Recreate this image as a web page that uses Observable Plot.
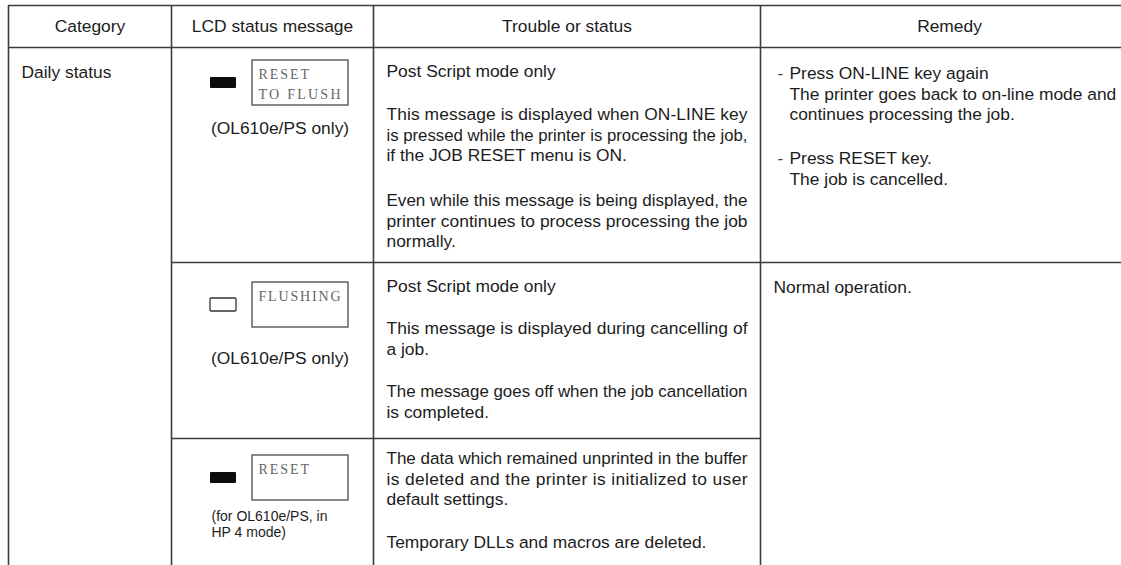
<!DOCTYPE html>
<html><head><meta charset="utf-8">
<script src="https://cdn.jsdelivr.net/npm/d3@7"></script>
<script src="https://cdn.jsdelivr.net/npm/@observablehq/plot@0.6"></script>
<style>
html,body{margin:0;padding:0;background:#fff;}
#chart svg{display:block;}
</style></head><body><div id="chart"></div>
<script>
// ---------- table content ----------
const headers = ["Category", "LCD status message", "Trouble or status", "Remedy"];
const categories = ["Daily status"];
const lcdMessages = [["RESET", "TO FLUSH"], ["FLUSHING"], ["RESET"]];
const ledStates = ["lit", "unlit", "lit"];
const lcdNotes = [["(OL610e/PS only)"], ["(OL610e/PS only)"], ["(for OL610e/PS, in", "HP 4 mode)"]];
const troubleText = [
  [["Post Script mode only"],
   ["This message is displayed when ON-LINE key", "is pressed while the printer is processing the job,", "if the JOB RESET menu is ON."],
   ["Even while this message is being displayed, the", "printer continues to process processing the job", "normally."]],
  [["Post Script mode only"],
   ["This message is displayed during cancelling of", "a job."],
   ["The message goes off when the job cancellation", "is completed."]],
  [["The data which remained unprinted in the buffer", "is deleted and the printer is initialized to user", "default settings."],
   ["Temporary DLLs and macros are deleted."]]
];
const remedyText = [
  [{bullet: true, lines: ["Press ON-LINE key again", "The printer goes back to on-line mode and", "continues processing the job."]},
   {bullet: true, lines: ["Press RESET key.", "The job is cancelled."]}],
  [{bullet: false, lines: ["Normal operation."]}]
];

// ---------- layout ----------
const W = 1121, H = 565;
const colX = [8, 171, 373, 760, 1138];
const rowY = [5, 47, 262, 438, 640];
const headerY = 26;
const catPos = {dx: 13, dy: 25};
const tParaY = [[71, 114, 200], [286, 328, 391], [458, 542]];
const tLead = 20.7;
const tLeft = 386, tJustify = 361;
const rParaY = [[73, 158], [287]];
const rLead = 20.5, rDash = 777, rText = 789, rPlain = 773;
const boxTop = [60, 282, 455], boxH = 45, boxX = [252, 348];
const ledX = [210, 236], ledH = [11, 13, 11];
const noteY = [[128], [358], [516, 532]];
const noteAnchor = ["middle", "middle", "start"];
const noteX = [279.5, 279.5, 211];

// ---------- derived mark data ----------
const headerData = headers.map((t, i) => ({t, x: (colX[i] + colX[i + 1]) / 2, y: headerY}));
const catData = categories.map(t => ({t, x: colX[0] + catPos.dx, y: rowY[1] + catPos.dy}));

const troubleLines = [];
troubleText.forEach((paras, r) => paras.forEach((lines, p) => lines.forEach((t, i) =>
  troubleLines.push({t, x: tLeft, y: tParaY[r][p] + i * tLead, justify: i < lines.length - 1}))));

const remedyLines = [], remedyDashes = [];
remedyText.forEach((items, r) => items.forEach((item, p) => {
  if (item.bullet) remedyDashes.push({t: "-", x: rDash, y: rParaY[r][p]});
  item.lines.forEach((t, i) => remedyLines.push({t, x: item.bullet ? rText : rPlain, y: rParaY[r][p] + i * rLead}));
}));

const boxes = lcdMessages.map((m, r) => ({x1: boxX[0], x2: boxX[1], y1: boxTop[r], y2: boxTop[r] + boxH}));
const leds = ledStates.map((s, r) => {
  const c = boxTop[r] + boxH / 2;
  return {state: s, x1: ledX[0], x2: ledX[1], y1: c - ledH[r] / 2, y2: c + ledH[r] / 2};
});
const lcdLines = [];
lcdMessages.forEach((m, r) => m.forEach((t, i) => lcdLines.push({t, x: boxX[0] + 6, y: boxTop[r] + 14 + i * 20})));
const noteLines = [];
lcdNotes.forEach((n, r) => n.forEach((t, i) => noteLines.push({t, x: noteX[r], y: noteY[r][i], anchor: noteAnchor[r]})));

const hLines = [
  {y: rowY[0], x1: colX[0], x2: colX[4]},
  {y: rowY[1], x1: colX[0], x2: colX[4]},
  {y: rowY[2], x1: colX[1], x2: colX[4]},
  {y: rowY[3], x1: colX[1], x2: colX[3]}
];
const vLines = colX.map(x => ({x, y1: rowY[0], y2: H + 5}));

const ink = "#1c1c1c", lineInk = "#3c3c3c";
const font = "Liberation Sans, Arial, Helvetica, sans-serif";

const chart = Plot.plot({
  width: W, height: H, margin: 0,
  x: {domain: [0, W], range: [0, W], axis: null},
  y: {domain: [0, H], range: [0, H], axis: null},
  style: {fontFamily: font, background: "#fff", color: ink},
  marks: [
    Plot.ruleY(hLines, {y: "y", x1: "x1", x2: "x2", stroke: lineInk, strokeWidth: 1.6}),
    Plot.ruleX(vLines, {x: "x", y1: "y1", y2: "y2", stroke: lineInk, strokeWidth: 1.6}),
    Plot.rect(boxes, {x1: "x1", x2: "x2", y1: "y1", y2: "y2", fill: "none", stroke: "#4a4a4a", strokeWidth: 1.3}),
    Plot.rect(leds.filter(d => d.state === "lit"), {x1: "x1", x2: "x2", y1: "y1", y2: "y2", fill: "#0d0d0d", rx: 1}),
    Plot.rect(leds.filter(d => d.state !== "lit"), {x1: "x1", x2: "x2", y1: "y1", y2: "y2", fill: "#fff", stroke: "#333", strokeWidth: 1.3, rx: 1}),
    Plot.text(headerData, {x: "x", y: "y", text: "t", textAnchor: "middle", lineAnchor: "middle", fontSize: 17.4, fill: ink}),
    Plot.text(catData, {x: "x", y: "y", text: "t", textAnchor: "start", lineAnchor: "middle", fontSize: 17.4, fill: ink}),
    Plot.text(troubleLines, {x: "x", y: "y", text: "t", textAnchor: "start", lineAnchor: "middle", fontSize: 17.4, fill: ink}),
    Plot.text(remedyDashes, {x: "x", y: "y", text: "t", textAnchor: "start", lineAnchor: "middle", fontSize: 17.4, fill: "#444"}),
    Plot.text(remedyLines, {x: "x", y: "y", text: "t", textAnchor: "start", lineAnchor: "middle", fontSize: 17.4, fill: ink}),
    Plot.text(lcdLines, {x: "x", y: "y", text: "t", textAnchor: "start", lineAnchor: "middle", fontSize: 14, fill: "#666", fontFamily: "Liberation Serif, Times New Roman, serif"}),
    Plot.text(noteLines.filter(d => d.anchor === "middle"), {x: "x", y: "y", text: "t", textAnchor: "middle", lineAnchor: "middle", fontSize: 17.4, fill: ink}),
    Plot.text(noteLines.filter(d => d.anchor === "start"), {x: "x", y: "y", text: "t", textAnchor: "start", lineAnchor: "middle", fontSize: 14, fill: ink})
  ]
});
document.getElementById("chart").append(chart);

// post-render text fitting, matched by content
const justifyMap = new Map(troubleLines.map(d => [d.t, d.justify]));
const lcdSet = new Set(lcdLines.map(d => d.t));
chart.querySelectorAll("text").forEach(el => {
  const s = el.textContent;
  if (justifyMap.has(s)) {
    const natural = el.getComputedTextLength();
    if (justifyMap.get(s) || natural > tJustify) {
      el.setAttribute("textLength", tJustify);
      el.setAttribute("lengthAdjust", natural > tJustify ? "spacingAndGlyphs" : "spacing");
    }
  } else if (lcdSet.has(s)) {
    el.setAttribute("textLength", s.length * 10.5 - 2);
    el.setAttribute("lengthAdjust", "spacing");
  }
});
</script></body></html>
